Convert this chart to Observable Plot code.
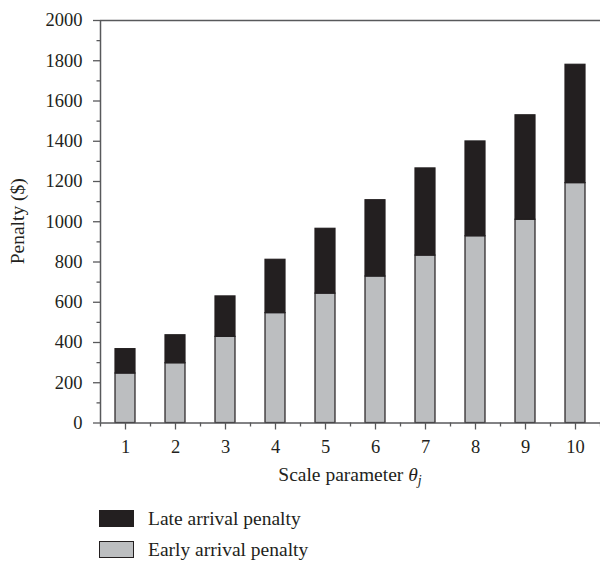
<!DOCTYPE html>
<html><head><meta charset="utf-8">
<script src="https://cdn.jsdelivr.net/npm/d3@7"></script>
<script src="https://cdn.jsdelivr.net/npm/@observablehq/plot@0.6"></script>
<style>
body{margin:0;background:#fff;font-family:"Liberation Serif",serif;color:#231f20}
#chart{position:absolute;left:0;top:0}
#legend{position:absolute;left:99px;top:503px;font-size:19.5px}
.row{display:flex;align-items:center;height:31px}
.sw{width:35px;height:17px;box-sizing:border-box;border:1.3px solid #231f20;margin-right:14px}
</style></head><body>
<div id="chart"></div>
<div id="legend"></div>
<script>
const theta = [1, 2, 3, 4, 5, 6, 7, 8, 9, 10];
const early = [246, 297, 428, 546, 643, 728, 832, 928, 1010, 1192];
const late = [121, 139, 201, 265, 322, 379, 433, 471, 519, 588];
const yTicks = [0, 200, 400, 600, 800, 1000, 1200, 1400, 1600, 1800, 2000];
const yMinor = [100, 300, 500, 700, 900, 1100, 1300, 1500, 1700, 1900];
const xMinor = [0.5, 1.5, 2.5, 3.5, 4.5, 5.5, 6.5, 7.5, 8.5, 9.5, 10.5];
const seriesNames = ["Late arrival penalty", "Early arrival penalty"];
const seriesColors = ["#231f20", "#bcbec0"];
const yLabel = "Penalty ($)";
const xLabelMain = "Scale parameter ";
const xLabelSym = "θ";
const xLabelSub = "j";

const rows = theta.map((t, i) => ({theta: t, early: early[i], late: late[i]}));
const axisColor = "#58595b";
const hw = 0.2;
const fmt = d3.format("d");

const chart = Plot.plot({
  width: 600, height: 496,
  marginLeft: 100, marginRight: 0, marginTop: 20, marginBottom: 73.5,
  x: {type: "linear", domain: [0.5, 10.5]},
  y: {domain: [0, 2000]},
  style: {fontFamily: '"Liberation Serif", serif', fontSize: "18.5px", color: "#231f20", background: "white", overflow: "visible"},
  marks: [
    Plot.rect(rows, {x1: d => d.theta - hw, x2: d => d.theta + hw, y1: 0, y2: "early",
      fill: seriesColors[1], stroke: "#231f20", strokeWidth: 1.2}),
    Plot.rect(rows, {x1: d => d.theta - hw, x2: d => d.theta + hw, y1: "early", y2: d => d.early + d.late,
      fill: seriesColors[0], stroke: "#231f20", strokeWidth: 1.2}),
    Plot.ruleY([0, 2000], {stroke: axisColor, strokeWidth: 1.5}),
    Plot.ruleX([0.5], {stroke: axisColor, strokeWidth: 1.5}),
    Plot.axisY(yTicks, {tickSize: 7, tickPadding: 11, label: null, tickFormat: fmt, fontSize: 18.5, fill: "#231f20", stroke: axisColor, strokeWidth: 1.3}),
    Plot.axisY(yMinor, {tickSize: 3.5, tickFormat: () => "", label: null, stroke: axisColor, strokeWidth: 1.3}),
    Plot.axisX(theta, {tickSize: 7, tickPadding: 10, label: null, tickFormat: fmt, fontSize: 18.5, fill: "#231f20", stroke: axisColor, strokeWidth: 1.3}),
    Plot.axisX(xMinor, {tickSize: 4, tickFormat: () => "", label: null, stroke: axisColor, strokeWidth: 1.3})
  ]
});
document.getElementById("chart").appendChild(chart);

const sx = chart.scale("x"), sy = chart.scale("y");
const svg = d3.select(chart);
const xt = svg.append("text")
  .attr("x", sx.apply(5.5)).attr("y", 481)
  .attr("text-anchor", "middle")
  .attr("font-size", 19.5).attr("fill", "#231f20")
  .attr("font-family", '"Liberation Serif", serif');
xt.append("tspan").text(xLabelMain);
xt.append("tspan").attr("font-style", "italic").text(xLabelSym);
xt.append("tspan").attr("font-style", "italic").attr("font-size", 14).attr("dy", 4).text(xLabelSub);

svg.append("text")
  .attr("transform", `translate(24,${sy.apply(1000)}) rotate(-90)`)
  .attr("text-anchor", "middle")
  .attr("font-size", 19.5).attr("fill", "#231f20")
  .attr("font-family", '"Liberation Serif", serif')
  .text(yLabel);

const leg = d3.select("#legend");
seriesNames.forEach((n, i) => {
  const r = leg.append("div").attr("class", "row");
  r.append("div").attr("class", "sw").style("background", seriesColors[i]);
  r.append("span").text(n);
});
</script>
</body></html>
